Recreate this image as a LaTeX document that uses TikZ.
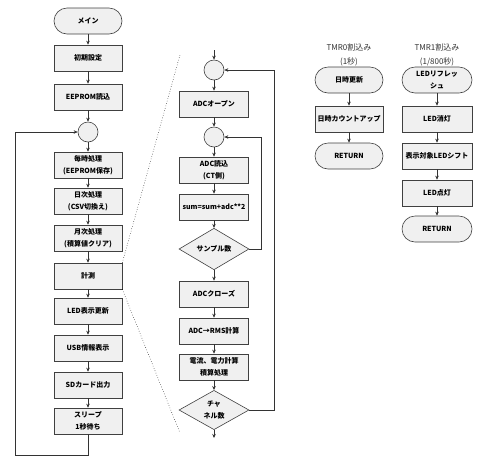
\documentclass[tikz,border=0pt]{standalone}
\usepackage{fontspec}
\newfontfamily\jpfont{Noto Sans CJK JP}
\usetikzlibrary{arrows.meta,shapes.geometric}
\tikzset{
	proc/.style={draw=black!75, fill=black!6, line width=0.6pt, minimum width=68pt, minimum height=26pt, inner sep=1pt, align=center, font=\jpfont\bfseries\fontsize{7}{12}\selectfont},
	term/.style={proc, rounded corners=13pt},
	decide/.style={proc, diamond, minimum width=70pt, minimum height=36pt, inner sep=0pt},
	junct/.style={draw=black!75, fill=black!6, line width=0.6pt, circle, minimum size=20pt, inner sep=0pt},
	flow/.style={draw=black!80, line width=0.6pt, -{Stealth[length=4pt,width=3.5pt]}},
	zoomline/.style={dotted, line width=0.5pt},
	caption/.style={font=\jpfont\fontsize{8}{14}\selectfont, text=black!80}
}

\begin{document}
\begin{tikzpicture}[x=1pt, y=-1pt]
		%%%%% START %%%%%
		\useasboundingbox (0, 0) rectangle (486, 467);
		
		% main loop
		\node[term] (main) at (88, 21) {メイン};
		\node[proc] (init) at (88, 58) {初期設定};
		\node[proc] (eeprom) at (88, 97) {EEPROM読込};
		\node[junct] (j0) at (88, 132) {};
		\node[proc] (hourly) at (88, 165) {毎時処理\\(EEPROM保存)};
		\node[proc] (daily) at (88, 201) {日次処理\\(CSV切換え)};
		\node[proc] (monthly) at (88, 238) {月次処理\\(積算値クリア)};
		\node[proc] (measure) at (88, 276) {計測};
		\node[proc] (led) at (88, 311) {LED表示更新};
		\node[proc] (usb) at (88, 348) {USB情報表示};
		\node[proc] (sd) at (88, 385) {SDカード出力};
		\node[proc] (sleep) at (88, 421) {スリープ\\1秒待ち};
		\coordinate (mainloop) at (15, 455);
		
		\draw[flow] (main) -- (init);
		\draw[flow] (init) -- (eeprom);
		\draw[flow] (eeprom) -- (j0);
		\draw[flow] (j0) -- (hourly);
		\draw[flow] (hourly) -- (daily);
		\draw[flow] (daily) -- (monthly);
		\draw[flow] (monthly) -- (measure);
		\draw[flow] (measure) -- (led);
		\draw[flow] (led) -- (usb);
		\draw[flow] (usb) -- (sd);
		\draw[flow] (sd) -- (sleep);
		\draw[flow] (sleep.south) |- (mainloop) |- (j0.west);
		
		% measurement detail
		\coordinate (mtop) at (180, 55);
		\coordinate (mbot) at (180, 433);
		\draw[zoomline] (measure.north east) -- (mtop);
		\draw[zoomline] (measure.south east) -- (mbot);
		
		\coordinate (min) at (214, 50);
		\node[junct] (j1) at (214, 70) {};
		\node[proc, minimum width=69pt] (open) at (214, 104) {ADCオープン};
		\node[junct] (j2) at (214, 137) {};
		\node[proc, minimum width=69pt] (read) at (214, 170) {ADC読込\\(CT側)};
		\node[proc, minimum width=69pt] (sum) at (214, 207) {sum=sum+adc**2};
		\node[decide] (smp) at (214, 249) {サンプル数};
		\node[proc, minimum width=69pt] (close) at (214, 294) {ADCクローズ};
		\node[proc, minimum width=69pt] (rms) at (214, 331) {ADC→RMS計算};
		\node[proc, minimum width=69pt] (power) at (214, 367) {電流、電力計算\\積算処理};
		\node[decide, minimum height=38pt] (ch) at (214, 410) {チャ\\ネル数};
		\coordinate (mout) at (214, 438);
		\coordinate (smploop) at (261, 249);
		\coordinate (chloop) at (274, 410);
		
		\draw[flow] (min) -- (j1);
		\draw[flow] (j1) -- (open);
		\draw[flow] (open) -- (j2);
		\draw[flow] (j2) -- (read);
		\draw[flow] (read) -- (sum);
		\draw[flow] (sum) -- (smp);
		\draw[flow] (smp) -- (close);
		\draw[flow] (close) -- (rms);
		\draw[flow] (rms) -- (power);
		\draw[flow] (power) -- (ch);
		\draw[flow] (ch) -- (mout);
		\draw[flow] (smp.east) -- (smploop) |- (j2.east);
		\draw[flow] (ch.east) -- (chloop) |- (j1.east);
		
		% TMR0 interrupt
		\node[caption, align=center] (tmr0) at (349, 55) {TMR0割込み\\(1秒)};
		\node[term] (clk) at (349, 80) {日時更新};
		\node[proc] (count) at (349, 119) {日時カウントアップ};
		\node[term] (ret0) at (349, 156) {RETURN};
		
		\draw[flow] (clk) -- (count);
		\draw[flow] (count) -- (ret0);
		
		% TMR1 interrupt
		\node[caption, align=center] (tmr1) at (437, 55) {TMR1割込み\\(1/800秒)};
		\node[term, minimum width=70pt] (refresh) at (437, 80) {LEDリフレッ\\シュ};
		\node[proc, minimum width=70pt] (off) at (437, 119) {LED消灯};
		\node[proc, minimum width=70pt] (shift) at (437, 156) {表示対象LEDシフト};
		\node[proc, minimum width=70pt] (on) at (437, 193) {LED点灯};
		\node[term, minimum width=70pt] (ret1) at (437, 229) {RETURN};
		
		\draw[flow] (refresh) -- (off);
		\draw[flow] (off) -- (shift);
		\draw[flow] (shift) -- (on);
		\draw[flow] (on) -- (ret1);
		%%%%% END %%%%%
\end{tikzpicture}
\end{document}
